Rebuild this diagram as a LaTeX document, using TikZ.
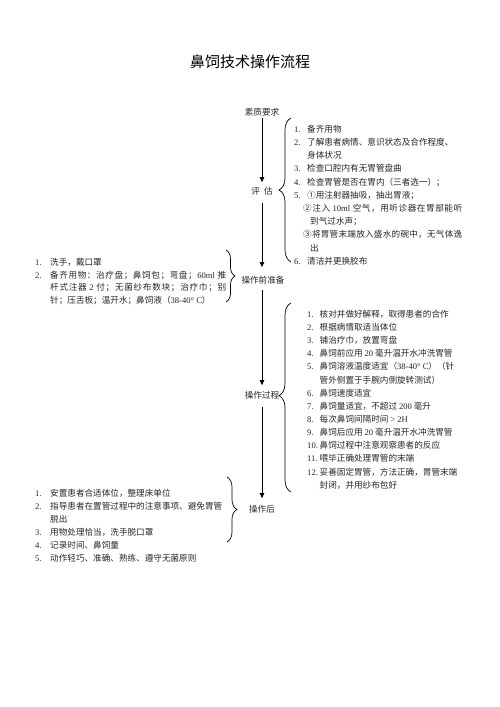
\documentclass[tikz,border=0pt]{standalone}
\usepackage{fontspec}
\setmainfont{Noto Sans CJK SC}
\newfontfamily\latf{Liberation Serif}
\newcommand\la[1]{{\latf #1}}
\usetikzlibrary{arrows.meta,decorations.pathreplacing}
\newcommand\nb[2][13pt]{\makebox[#1][l]{\la{#2}}}
\ExplSyntaxOn
\cs_new_protected:Npn \spreadto #1 #2
  { \hbox_to_wd:nn {#1} { \skip_horizontal:n { 0pt plus -1fil } \tl_map_inline:nn {#2} { \hfil ##1 } } }
\ExplSyntaxOff
\tikzset{
  stage/.style={font=\fontsize{8.6}{10}\selectfont, inner sep=1pt, text=black!85},
  listbox/.style={anchor=base west, inner sep=0pt, text=black!85},
  flow/.style={line width=0.8pt, -{Triangle[length=5pt,width=4.5pt]}},
  brc/.style={line width=0.7pt, decorate, decoration={brace, amplitude=#1}},
}
\begin{document}
\begin{tikzpicture}[x=1pt,y=-1pt]
\fill[white] (0,0) rectangle (500,707);
\useasboundingbox (0,0) rectangle (500,707);

\node[inner sep=0pt, font=\fontsize{15}{18}\selectfont] (title) at (250,62) {鼻饲技术操作流程};

% stages
\node[stage] (suzhi) at (262,112) {素质要求};
\node[stage] (pinggu) at (262,191) {评\hspace{4pt}估};
\node[stage] (qian) at (263,280) {操作前准备};
\node[stage] (guo) at (262,395) {操作过程};
\node[stage] (hou) at (262,509) {操作后};

\draw[flow, shorten <=0.7pt, shorten >=3.7pt] (suzhi) -- (pinggu);
\draw[flow, shorten <=6.7pt, shorten >=7.7pt] (pinggu) -- (qian.north -| pinggu);
\draw[flow, shorten <=4.7pt, shorten >=4.7pt] (qian.south -| pinggu) -- (guo);
\draw[flow, shorten <=6.7pt, shorten >=5.7pt] (guo) -- (hou);

% braces
\coordinate (b1s) at (291,262); \coordinate (b1e) at (291,118);
\draw[brc=12pt] (b1s) -- (b1e);
\coordinate (b2s) at (226,250); \coordinate (b2e) at (226,302);
\draw[brc=9pt] (b2s) -- (b2e);
\coordinate (b3s) at (291,492); \coordinate (b3e) at (291,303);
\draw[brc=12pt, decoration={aspect=0.51}] (b3s) -- (b3e);
\coordinate (b4s) at (227,477); \coordinate (b4e) at (227,542);
\draw[brc=10pt] (b4s) -- (b4e);

% lists
\node[listbox] (l1) at (294,132.3) {\parbox[t]{250pt}{\fontsize{8.6}{13.2}\selectfont
\nb{1.}备齐用物\\
\nb{2.}了解患者病情、意识状态及合作程度、\\
\hspace*{13pt}身体状况\\
\nb{3.}检查口腔内有无胃管盘曲\\
\nb{4.}检查胃管是否在胃内（三者选一）；\\
\nb{5.}①用注射器抽吸，抽出胃液；\\
\hspace*{9pt}\spreadto{159pt}{②注入{\ \la{10ml}\ }空气，用听诊器在胃部能听}\\
\hspace*{16pt}到气过水声；\\
\hspace*{9pt}\spreadto{159pt}{③将胃管末端放入盛水的碗中，无气体逸}\\
\hspace*{16pt}出\\
\nb{6.}清洁并更换胶布}};

\node[listbox] (l2) at (35,265.3) {\parbox[t]{250pt}{\fontsize{8.6}{12.7}\selectfont
\nb[15pt]{1.}洗手，戴口罩\\
\nb[15pt]{2.}\spreadto{176pt}{备齐用物：治疗盘；鼻饲包；弯盘；{\la{60ml}\ }推}\\
\hspace*{15pt}\spreadto{176pt}{杆式注器{\ \la{2}\ }付；无菌纱布数块；治疗巾；别}\\
\hspace*{15pt}针；压舌板；温开水；鼻饲液（\la{38-40° C}）}};

\node[listbox] (l3) at (307,317.3) {\parbox[t]{250pt}{\fontsize{8.6}{13.15}\selectfont
\nb[12.5pt]{1.}核对并做好解释，取得患者的合作\\
\nb[12.5pt]{2.}根据病情取适当体位\\
\nb[12.5pt]{3.}铺治疗巾，放置弯盘\\
\nb[12.5pt]{4.}鼻饲前应用 \la{20} 毫升温开水冲洗胃管\\
\nb[12.5pt]{5.}鼻饲溶液温度适宜（\la{38-40° C}）（针\\
\hspace*{12.5pt}管外侧置于手腕内侧旋转测试）\\
\nb[12.5pt]{6.}鼻饲速度适宜\\
\nb[12.5pt]{7.}鼻饲量适宜，不超过 \la{200} 毫升\\
\nb[12.5pt]{8.}每次鼻饲间隔时间 \la{> 2H}\\
\nb[12.5pt]{9.}鼻饲后应用 \la{20} 毫升温开水冲洗胃管\\
\nb[12.5pt]{10.}鼻饲过程中注意观察患者的反应\\
\nb[12.5pt]{11.}喂毕正确处理胃管的末端\\
\nb[12.5pt]{12.}妥善固定胃管，方法正确，胃管末端\\
\hspace*{12.5pt}封闭，并用纱布包好}};

\node[listbox] (l4) at (35,496.3) {\parbox[t]{250pt}{\fontsize{8.6}{13}\selectfont
\nb[15pt]{1.}安置患者合适体位，整理床单位\\
\nb[15pt]{2.}指导患者在置管过程中的注意事项、避免胃管\\
\hspace*{15pt}脱出\\
\nb[15pt]{3.}用物处理恰当，洗手脱口罩\\
\nb[15pt]{4.}记录时间、鼻饲量\\
\nb[15pt]{5.}动作轻巧、准确、熟练、遵守无菌原则}};
\end{tikzpicture}
\end{document}
